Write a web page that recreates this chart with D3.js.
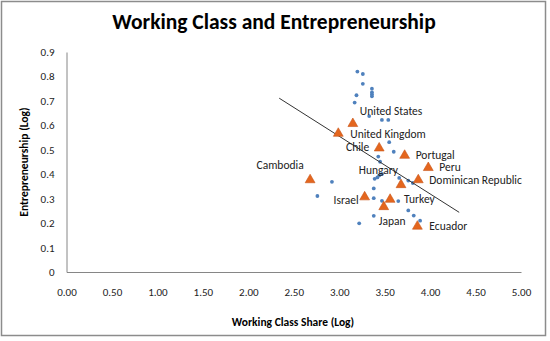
<!DOCTYPE html>
<html>
<head>
<meta charset="utf-8">
<script src="https://cdn.jsdelivr.net/npm/d3@7/dist/d3.min.js"></script>
<style>
  html, body { margin: 0; padding: 0; background: #fff; }
  svg { display: block; font-family: Calibri, Carlito, Lato, "Open Sans", sans-serif; }
</style>
</head>
<body>
<svg id="chart" width="550" height="341"></svg>
<script>
// All countries in the sample (log working-class share vs log entrepreneurship)
const sampleX = [3.20, 3.26, 3.26, 3.36, 3.36, 3.36, 3.36, 3.19, 3.17, 3.33,
                 3.47, 3.54, 3.55, 3.60, 3.43, 3.45, 2.92, 2.76, 3.39, 3.42,
                 3.44, 3.47, 3.38, 3.38, 3.47, 3.65, 3.66, 3.76, 3.81, 3.76,
                 3.82, 3.89, 3.38, 3.22];
const sampleY = [0.82, 0.81, 0.77, 0.75, 0.735, 0.727, 0.719, 0.723, 0.693, 0.638,
                 0.622, 0.622, 0.531, 0.492, 0.472, 0.451, 0.369, 0.311, 0.381, 0.387,
                 0.395, 0.401, 0.342, 0.302, 0.291, 0.290, 0.385, 0.374, 0.364, 0.252,
                 0.231, 0.210, 0.230, 0.199];

// Highlighted countries
const countries = ["Cambodia", "United States", "United Kingdom", "Chile", "Portugal", "Peru",
                   "Dominican Republic", "Hungary", "Israel", "Turkey", "Japan", "Ecuador"];
const countryX = [2.68, 3.15, 2.99, 3.44, 3.72, 3.98, 3.87, 3.68, 3.28, 3.56, 3.49, 3.86];
const countryY = [0.38, 0.61, 0.57, 0.51, 0.48, 0.43, 0.38, 0.36, 0.31, 0.30, 0.27, 0.19];

// Linear trend line end points
const trendX = [2.34, 4.32];
const trendY = [0.711, 0.244];

// Axis tick values and labels
const xTicks = [0, 0.5, 1, 1.5, 2, 2.5, 3, 3.5, 4, 4.5, 5];
const xTickLabels = ["0.00", "0.50", "1.00", "1.50", "2.00", "2.50", "3.00", "3.50", "4.00", "4.50", "5.00"];
const yTicks = [0, 0.1, 0.2, 0.3, 0.4, 0.5, 0.6, 0.7, 0.8, 0.9];
const yTickLabels = ["0", "0.1", "0.2", "0.3", "0.4", "0.5", "0.6", "0.7", "0.8", "0.9"];

// Label placement for each highlighted country: offset from the marker and text anchor
const labelPlacement = {
  "Cambodia":           { dx: -30, dy: -14, anchor: "middle" },
  "United States":      { dx: 7,   dy: -12, anchor: "start" },
  "United Kingdom":     { dx: 12,  dy: 1,   anchor: "start" },
  "Chile":              { dx: -10, dy: 0,   anchor: "end" },
  "Portugal":           { dx: 11,  dy: 0,   anchor: "start" },
  "Peru":               { dx: 11,  dy: 0,   anchor: "start" },
  "Dominican Republic": { dx: 11,  dy: 1,   anchor: "start" },
  "Hungary":            { dx: -3,  dy: -14, anchor: "end" },
  "Israel":             { dx: -6,  dy: 4,   anchor: "end" },
  "Turkey":             { dx: 14,  dy: 0,   anchor: "start" },
  "Japan":              { dx: -5,  dy: 15,  anchor: "start" },
  "Ecuador":            { dx: 12,  dy: 0,   anchor: "start" }
};

const svg = d3.select("#chart");

// Chart frame
svg.append("rect")
  .attr("x", 1.5).attr("y", 1.5)
  .attr("width", 544).attr("height", 334)
  .attr("fill", "#fff")
  .attr("stroke", "#8c8c8c")
  .attr("stroke-width", 1.5);

const x = d3.scaleLinear().domain([0, 5]).range([66.5, 521]);
const y = d3.scaleLinear().domain([0, 0.9]).range([272, 52]);

// Title
svg.append("text")
  .attr("x", 274).attr("y", 29)
  .attr("text-anchor", "middle")
  .attr("font-size", 21.5)
  .attr("font-weight", "bold")
  .attr("fill", "#000")
  .text("Working Class and Entrepreneurship");

// Axes
const xAxis = svg.append("g")
  .attr("transform", `translate(0,${y(0)})`)
  .call(d3.axisBottom(x).tickValues(xTicks)
    .tickFormat((d, i) => xTickLabels[i])
    .tickSize(0).tickPadding(16));

const yAxis = svg.append("g")
  .attr("transform", `translate(${x(0)},0)`)
  .call(d3.axisLeft(y).tickValues(yTicks)
    .tickFormat((d, i) => yTickLabels[i])
    .tickSize(0).tickPadding(12));

[xAxis, yAxis].forEach(g => {
  g.select(".domain").attr("stroke", "#868686").attr("stroke-width", 1);
  g.selectAll("text")
    .attr("font-family", "Calibri, Carlito, Lato, sans-serif")
    .attr("font-size", 11)
    .attr("fill", "#222");
});

// Axis titles
svg.append("text")
  .attr("x", 293).attr("y", 326)
  .attr("text-anchor", "middle")
  .attr("font-size", 11.5)
  .attr("font-weight", "bold")
  .attr("fill", "#000")
  .text("Working Class Share (Log)");

svg.append("text")
  .attr("transform", `translate(28,${(y(0) + y(0.9)) / 2}) rotate(-90)`)
  .attr("text-anchor", "middle")
  .attr("font-size", 11.5)
  .attr("font-weight", "bold")
  .attr("fill", "#000")
  .text("Entrepreneurship (Log)");

// Sample points
svg.append("g")
  .selectAll("circle")
  .data(sampleX.map((v, i) => [v, sampleY[i]]))
  .join("circle")
  .attr("cx", d => x(d[0]))
  .attr("cy", d => y(d[1]))
  .attr("r", 1.9)
  .attr("fill", "#4F81BD");

// Trend line
svg.append("line")
  .attr("x1", x(trendX[0])).attr("y1", y(trendY[0]))
  .attr("x2", x(trendX[1])).attr("y2", y(trendY[1]))
  .attr("stroke", "#333")
  .attr("stroke-width", 1);

// Highlighted countries
const tri = d3.symbol().type(d3.symbolTriangle).size(42);
const hl = countries.map((c, i) => ({ name: c, x: countryX[i], y: countryY[i] }));

svg.append("g")
  .selectAll("path")
  .data(hl)
  .join("path")
  .attr("d", tri)
  .attr("transform", d => `translate(${x(d.x)},${y(d.y) + 0.8})`)
  .attr("fill", "#E4661E")
  .attr("stroke", "#C8561A")
  .attr("stroke-width", 0.6);

svg.append("g")
  .selectAll("text")
  .data(hl)
  .join("text")
  .attr("x", d => x(d.x) + labelPlacement[d.name].dx)
  .attr("y", d => y(d.y) + labelPlacement[d.name].dy)
  .attr("dy", "0.35em")
  .attr("text-anchor", d => labelPlacement[d.name].anchor)
  .attr("font-size", 11.5)
  .attr("fill", "#222")
  .text(d => d.name);
</script>
</body>
</html>
